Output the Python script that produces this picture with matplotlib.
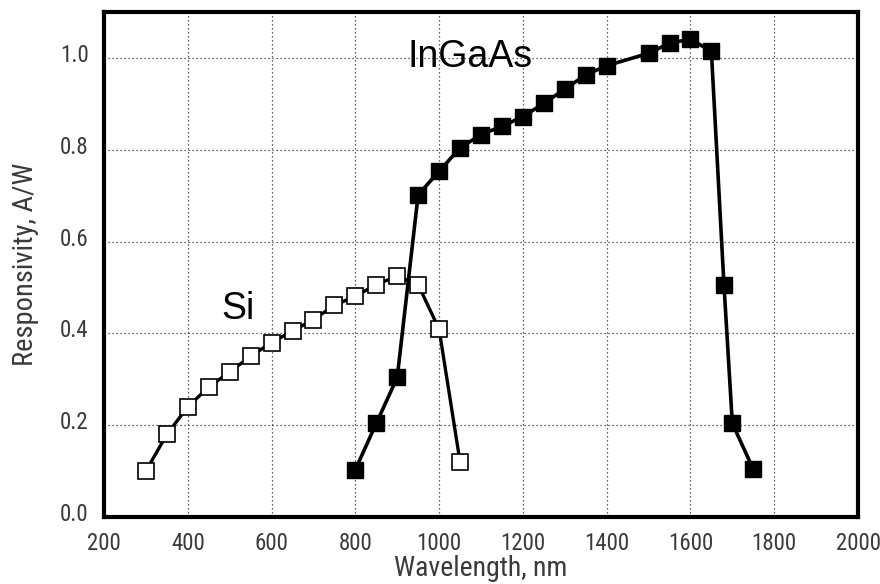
import matplotlib
matplotlib.use("Agg")
import matplotlib.pyplot as plt
import matplotlib.transforms as mtransforms

# Si photodiode responsivity (open squares)
si_wl = [300, 350, 400, 450, 500, 550, 600, 650, 700, 750, 800, 850, 900, 950, 1000, 1050]
si_resp = [0.10, 0.18, 0.24, 0.283, 0.316, 0.35, 0.38, 0.405, 0.43, 0.461, 0.481, 0.506, 0.525, 0.506, 0.409, 0.12]

# InGaAs photodiode responsivity (filled squares)
ingaas_wl = [800, 850, 900, 950, 1000, 1050, 1100, 1150, 1200, 1250, 1300, 1350, 1400,
             1500, 1550, 1600, 1650, 1680, 1700, 1750]
ingaas_resp = [0.103, 0.204, 0.304, 0.702, 0.753, 0.804, 0.833, 0.851, 0.872, 0.901, 0.932, 0.963, 0.983,
               1.010, 1.032, 1.041, 1.014, 0.506, 0.204, 0.104]

x_ticks = [200, 400, 600, 800, 1000, 1200, 1400, 1600, 1800, 2000]
y_ticks = [0.0, 0.2, 0.4, 0.6, 0.8, 1.0]

# narrow face for axis text, plain sans for the curve names
narrow = ['Liberation Sans Narrow', 'Roboto Condensed', 'Archivo Narrow', 'DejaVu Sans']
plain = ['Liberation Sans', 'Arial', 'DejaVu Sans']
gray = '#3a3a3a'

fig = plt.figure(figsize=(8.8, 5.84), dpi=100)
ax = fig.add_axes([104 / 880, 1 - 517 / 584, 754 / 880, 505 / 584])

ax.plot(si_wl, si_resp, color='black', lw=2.4, marker='s', ms=11.5,
        mfc='white', mec='black', mew=1.2, zorder=3)
ax.plot(ingaas_wl, ingaas_resp, color='black', lw=2.6, marker='s', ms=12,
        mfc='black', mec='black', zorder=4)

ax.set_xlim(200, 2000)
ax.set_ylim(0, 1.1)
ax.set_xticks(x_ticks)
ax.set_yticks(y_ticks)
ax.set_xticklabels([str(v) for v in x_ticks])
ax.set_yticklabels(['%.1f' % v for v in y_ticks])
ax.tick_params(length=0, labelsize=16.5, labelcolor=gray)
ax.tick_params(axis='x', pad=11)
ax.tick_params(axis='y', pad=11)
for lab in ax.get_xticklabels() + ax.get_yticklabels():
    lab.set_family(narrow)
# y labels sit a little above their gridlines in the original
shift = mtransforms.ScaledTranslation(0, 5 / 100, fig.dpi_scale_trans)
for lab in ax.get_yticklabels():
    lab.set_transform(lab.get_transform() + shift)

ax.grid(True, color='#333333', linestyle=(0, (1, 2.2)), linewidth=0.9)
ax.set_axisbelow(True)
for s in ax.spines.values():
    s.set_linewidth(3)
    s.set_color('black')

ax.set_xlabel('Wavelength, nm', fontsize=20, color=gray, family=narrow, labelpad=0)
ax.set_ylabel('Responsivity, A/W', fontsize=20.5, color=gray, family=narrow, labelpad=15)

ax.text(1073, 1.002, 'InGaAs', fontsize=27, family=plain, ha='center', va='center')
ax.text(520, 0.452, 'Si', fontsize=27, family=plain, ha='center', va='center')

fig.savefig('out.png', dpi=100, facecolor='white')
